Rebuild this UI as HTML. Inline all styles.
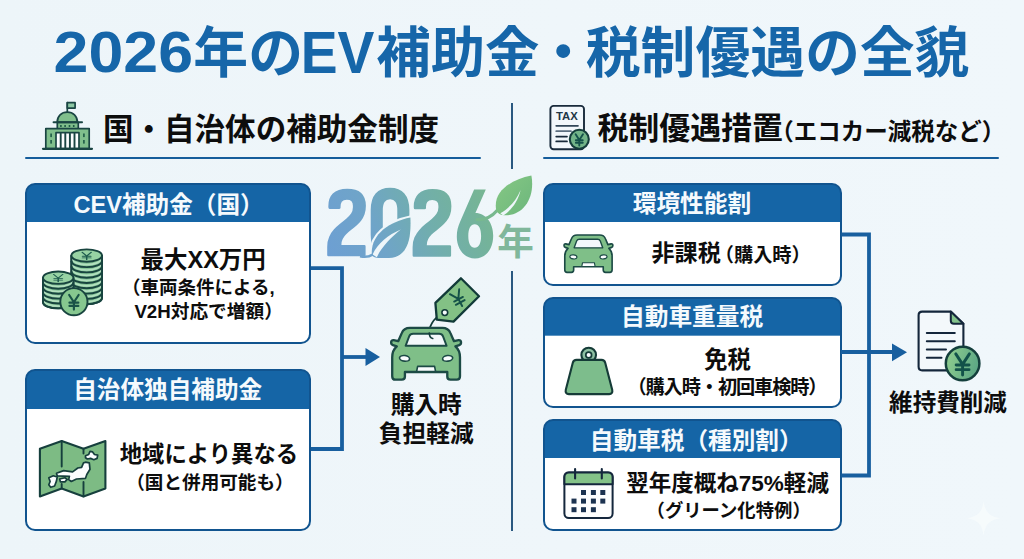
<!DOCTYPE html>
<html lang="ja">
<head>
<meta charset="utf-8">
<title>2026年のEV補助金・税制優遇の全貌</title>
<style>
html,body{margin:0;padding:0}
body{width:1024px;height:559px;overflow:hidden;position:relative;background:#eef6fa linear-gradient(90deg,#edf5f9 0%,#eff6fa 55%,#f0f7fb 100%);font-family:"Liberation Sans",sans-serif;color:#131313}
.t{position:absolute;margin:0;padding:0;color:transparent;font-weight:700;white-space:nowrap;overflow:hidden;line-height:1.15;text-align:left}
.layer{position:absolute;left:0;top:0;width:1024px;height:559px;display:block}
.rule{position:absolute;height:2.8px;background:#155d9b;border-radius:1px}
.vrule{position:absolute;width:2.4px;background:#2a5880}
.card{position:absolute;box-sizing:border-box;border:2.8px solid #11548f;border-radius:10px;background:#fff linear-gradient(#1565a6,#1565a6) no-repeat 0 0/100% var(--hd,37px);overflow:hidden}
.txt text{font-family:"Liberation Sans","Noto Sans CJK JP",sans-serif;font-weight:700}
</style>
</head>
<body>
<main>
<h1 class="t" style="left:54px;top:22px;width:916px;height:62px;font-size:54px">2026年のEV補助金・税制優遇の全貌</h1>

<section aria-label="国・自治体の補助金制度">
<h2 class="t" style="left:103px;top:111px;width:338px;height:35px;font-size:30.5px">国・自治体の補助金制度</h2>
<div class="rule" style="left:25px;top:156.6px;width:456px"></div>
<article class="card" style="left:25px;top:183px;width:286.2px;height:161px;--hd:37.2px"></article>
<h3 class="t" style="left:73px;top:190px;width:200px;height:28px;font-size:24px">CEV補助金（国）</h3>
<p class="t" style="left:140px;top:245px;width:128px;height:28px;font-size:23.5px">最大XX万円</p>
<p class="t" style="left:126px;top:276px;width:150px;height:22px;font-size:18.4px">（車両条件による,</p>
<p class="t" style="left:134px;top:300px;width:150px;height:22px;font-size:18.4px">V2H対応で増額）</p>
<article class="card" style="left:25px;top:369.3px;width:286.2px;height:161.8px;--hd:38px"></article>
<h3 class="t" style="left:75px;top:375px;width:190px;height:28px;font-size:23.7px">自治体独自補助金</h3>
<p class="t" style="left:119px;top:438px;width:180px;height:28px;font-size:22.4px">地域により異なる</p>
<p class="t" style="left:129px;top:470px;width:156px;height:23px;font-size:18.7px">（国と併用可能も）</p>
<p class="t" style="left:390px;top:391px;width:72px;height:27px;font-size:23.4px">購入時</p>
<p class="t" style="left:378px;top:419px;width:96px;height:27px;font-size:23.5px">負担軽減</p>
</section>

<div class="vrule" style="left:511px;top:103px;height:66px"></div>
<div class="vrule" style="left:511px;top:271px;height:260px"></div>

<section aria-label="税制優遇措置（エコカー減税など）">
<h2 class="t" style="left:597px;top:110px;width:395px;height:36px;font-size:31px">税制優遇措置<span style="font-size:23px">（エコカー減税など）</span></h2>
<div class="rule" style="left:543px;top:156.6px;width:455.5px"></div>
<article class="card" style="left:543px;top:183px;width:298.6px;height:102.8px;--hd:37.2px"></article>
<h3 class="t" style="left:632px;top:189px;width:120px;height:28px;font-size:23.8px">環境性能割</h3>
<p class="t" style="left:651px;top:238px;width:150px;height:28px;font-size:23.2px">非課税<span style="font-size:19px">（購入時）</span></p>
<article class="card" style="left:543px;top:297px;width:298.6px;height:111.3px;--hd:36.7px"></article>
<h3 class="t" style="left:623px;top:303px;width:142px;height:28px;font-size:23.6px">自動車重量税</h3>
<p class="t" style="left:704px;top:345px;width:48px;height:28px;font-size:23.4px">免税</p>
<p class="t" style="left:631px;top:374px;width:188px;height:23px;font-size:19.2px">（購入時・初回車検時）</p>
<article class="card" style="left:543px;top:419px;width:298.6px;height:111.7px;--hd:37px"></article>
<h3 class="t" style="left:592px;top:426px;width:214px;height:28px;font-size:23.8px">自動車税（種別割）</h3>
<p class="t" style="left:626px;top:468px;width:205px;height:28px;font-size:22.6px">翌年度概ね75%軽減</p>
<p class="t" style="left:647px;top:498px;width:160px;height:23px;font-size:18.7px">（グリーン化特例）</p>
<p class="t" style="left:888px;top:388px;width:121px;height:28px;font-size:23.6px">維持費削減</p>
</section>
</main>

<!-- connectors, icons, logo -->
<svg class="layer" viewBox="0 0 1024 559" aria-hidden="true">
<g fill="none" stroke="#185f9f" stroke-width="3.8" stroke-linejoin="miter">
  <path d="M311 268.200H342V449H311"/>
  <path d="M342 357H368"/>
  <path d="M841.500 234.500H869V475.500H841.500"/>
  <path d="M841 352H894"/>
</g>
<g fill="#185f9f">
  <path d="M365.500 348L380 357L365.500 366Z"/>
  <path d="M892 343.5L907 352.3L892 361.3Z"/>
</g>
<!--ICONS_BEGIN-->
<defs>
  <path id="yen" d="M-3.5-5.2L0 .2L3.5-5.2M0 .2V5.6M-3.3 .5H3.3M-3.3 2.9H3.3" fill="none" stroke-linecap="round" stroke-linejoin="round"/>
  <g id="car">
    <path d="M27 2H73C79 2 82.5 4.500 84.500 9.500L89.500 21L96 19.500C100.500 19 100.500 25.500 97 26.500L91.500 28.500C96 32.500 98 38 98 44V71C98 74.500 96.500 76 93.500 76H84.500C81.500 76 80 74.500 80 71.500V65H20V71.500C20 74.500 18.500 76 15.500 76H6.500C3.500 76 2 74.500 2 71V44C2 38 4 32.500 8.500 28.500L3 26.500C-.5 25.500-.5 19 4 19.500L10.500 21L15.500 9.500C17.500 4.500 21 2 27 2Z" fill="#7fbf88" stroke="#1c4a45" stroke-width="3.300" stroke-linejoin="round"/>
    <path d="M31.500 10.500H68.500C71.500 10.500 73 11.500 74 14L79 27.500H21L26 14C27 11.500 28.500 10.500 31.500 10.500Z" fill="#f3f8fb" stroke="#1c4a45" stroke-width="2.800" stroke-linejoin="round"/>
    <ellipse cx="19.500" cy="45.500" rx="7.200" ry="4" fill="#fafdfe" stroke="#1c4a45" stroke-width="2.300" transform="rotate(8 19.500 45.500)"/>
    <ellipse cx="80.500" cy="45.500" rx="7.200" ry="4" fill="#fafdfe" stroke="#1c4a45" stroke-width="2.300" transform="rotate(-8 80.500 45.500)"/>
    <path d="M38 57H62L63.500 64.500H36.500Z" fill="#fafdfe" stroke="#1c4a45" stroke-width="2.300" stroke-linejoin="round"/>
  </g>
</defs>

<!-- government building -->
<g stroke="#1a4543" stroke-width="1.700" stroke-linejoin="round" stroke-linecap="round" fill="#80bf8c">
  <path d="M67.300 112V102.700" fill="none"/>
  <rect x="67.300" y="102.700" width="7.800" height="5.400" fill="#8cc7a3"/>
  <path d="M57.200 122.300C57.200 116 61.500 112.200 67.300 112.200S77.400 116 77.400 122.300Z"/>
  <rect x="57.300" y="122.300" width="21" height="6.500"/>
  <path d="M53.600 122.300H82" fill="none" stroke-width="2.100"/>
  <rect x="45.800" y="128.600" width="43.400" height="20"/>
  <rect x="56" y="132.700" width="23" height="16" fill="#fbfdfe"/>
  <path d="M60.700 133.500V148M65.300 133.500V148M69.900 133.500V148M74.500 133.500V148" fill="none" stroke-width="1.900"/>
  <path d="M43 148.800H92" fill="none" stroke-width="2.200"/>
</g>
<g fill="#1d5a45">
  <rect x="60.100" y="125" width="1.600" height="2"/><rect x="64.300" y="125" width="1.600" height="2"/><rect x="68.700" y="125" width="1.600" height="2"/><rect x="72.900" y="125" width="1.600" height="2"/>
  <rect x="50.300" y="133.500" width="1.600" height="3.600"/><rect x="50.300" y="140" width="1.600" height="3.600"/>
  <rect x="83.100" y="133.500" width="1.600" height="3.600"/><rect x="83.100" y="140" width="1.600" height="3.600"/>
</g>

<!-- TAX document -->
<g stroke-linecap="round">
  <rect x="550.400" y="105.900" width="33.600" height="43.400" rx="3.200" fill="#f2f7fb" stroke="#192a3b" stroke-width="1.900"/>
  <path d="M556.200 125.800H578" stroke="#324658" stroke-width="1.700"/>
  <path d="M556.200 131.200H571" stroke="#5d6f80" stroke-width="1.700"/>
  <path d="M556.200 136.600H567M556.200 141.400H567" stroke="#192a3b" stroke-width="1.700"/>
  <circle cx="579.300" cy="139.300" r="9.500" fill="#72b488" stroke="#153d3b" stroke-width="2.100"/>
  <use href="#yen" transform="translate(579.300 139.700) scale(1.050)" stroke="#15524a" stroke-width="1.800"/>
</g>
<!-- coin stacks -->
<g stroke="#18443f" stroke-width="1.900" stroke-linejoin="round"><path d="M71.4 255.6V298.0A15.3 6.2 0 0 0 102.0 298.0V255.6Z" fill="#84c496"/><path d="M72.2 258.5A14.5 6.2 0 0 0 101.2 258.5" fill="none" stroke="#b3dfbf" stroke-width="1.700"/><path d="M72.2 263.8A14.5 6.2 0 0 0 101.2 263.8" fill="none" stroke="#b3dfbf" stroke-width="1.700"/><path d="M72.2 269.1A14.5 6.2 0 0 0 101.2 269.1" fill="none" stroke="#b3dfbf" stroke-width="1.700"/><path d="M72.2 274.4A14.5 6.2 0 0 0 101.2 274.4" fill="none" stroke="#b3dfbf" stroke-width="1.700"/><path d="M72.2 279.7A14.5 6.2 0 0 0 101.2 279.7" fill="none" stroke="#b3dfbf" stroke-width="1.700"/><path d="M72.2 285.0A14.5 6.2 0 0 0 101.2 285.0" fill="none" stroke="#b3dfbf" stroke-width="1.700"/><path d="M72.2 290.3A14.5 6.2 0 0 0 101.2 290.3" fill="none" stroke="#b3dfbf" stroke-width="1.700"/><path d="M72.2 295.6A14.5 6.2 0 0 0 101.2 295.6" fill="none" stroke="#b3dfbf" stroke-width="1.700"/><path d="M71.4 260.9A15.3 6.2 0 0 0 102.0 260.9" fill="none"/><path d="M71.4 266.2A15.3 6.2 0 0 0 102.0 266.2" fill="none"/><path d="M71.4 271.5A15.3 6.2 0 0 0 102.0 271.5" fill="none"/><path d="M71.4 276.8A15.3 6.2 0 0 0 102.0 276.8" fill="none"/><path d="M71.4 282.1A15.3 6.2 0 0 0 102.0 282.1" fill="none"/><path d="M71.4 287.4A15.3 6.2 0 0 0 102.0 287.4" fill="none"/><path d="M71.4 292.7A15.3 6.2 0 0 0 102.0 292.7" fill="none"/><path d="M71.4 255.6V298.0A15.3 6.2 0 0 0 102.0 298.0V255.6" fill="none"/><ellipse cx="86.7" cy="255.6" rx="15.3" ry="6.2" fill="#97d2a3"/><use href="#yen" transform="translate(86.7 255.9) scale(1.300 .700)" stroke-width="1.150" stroke="#1d5a4d"/><path d="M43.0 277.7V302.2A15.2 6.2 0 0 0 73.4 302.2V277.7Z" fill="#84c496"/><path d="M43.8 280.4A14.4 6.2 0 0 0 72.6 280.4" fill="none" stroke="#b3dfbf" stroke-width="1.700"/><path d="M43.8 285.3A14.4 6.2 0 0 0 72.6 285.3" fill="none" stroke="#b3dfbf" stroke-width="1.700"/><path d="M43.8 290.2A14.4 6.2 0 0 0 72.6 290.2" fill="none" stroke="#b3dfbf" stroke-width="1.700"/><path d="M43.8 295.1A14.4 6.2 0 0 0 72.6 295.1" fill="none" stroke="#b3dfbf" stroke-width="1.700"/><path d="M43.8 300.0A14.4 6.2 0 0 0 72.6 300.0" fill="none" stroke="#b3dfbf" stroke-width="1.700"/><path d="M43.0 282.6A15.2 6.2 0 0 0 73.4 282.6" fill="none"/><path d="M43.0 287.5A15.2 6.2 0 0 0 73.4 287.5" fill="none"/><path d="M43.0 292.4A15.2 6.2 0 0 0 73.4 292.4" fill="none"/><path d="M43.0 297.3A15.2 6.2 0 0 0 73.4 297.3" fill="none"/><path d="M43.0 277.7V302.2A15.2 6.2 0 0 0 73.4 302.2V277.7" fill="none"/><ellipse cx="58.2" cy="277.7" rx="15.2" ry="6.2" fill="#97d2a3"/><use href="#yen" transform="translate(58.2 278.0) scale(1.300 .700)" stroke-width="1.150" stroke="#1d5a4d"/><circle cx="73.900" cy="301.700" r="13.600" fill="#86c78f"/><use href="#yen" transform="translate(73.900 302.000) scale(1.350)" stroke="#195247" stroke-width="1.600" stroke-linecap="round"/></g>
<!-- folded map of Japan -->
<g stroke="#163f3d" stroke-linejoin="round" stroke-linecap="round">
  <path d="M39.900 448.700L61.700 441L83.500 448.700L105.400 441V488.600L83.500 496.400L61.700 488.600L39.900 496.400Z" fill="#7dbb84" stroke-width="2.100"/>
  <path d="M61.700 441V466.500M61.700 484V488.600M83.500 448.700V453.500M83.500 482V496.400" fill="none" stroke-width="1.900"/>
  <g fill="#fbfdfe" stroke-width="1.700">
    <path d="M85.500 455.800L88.700 454.500L90 451.300L92.600 451.900L94.500 454.500L97.700 455.200L97.100 458.400L93.800 459.700L90.600 458.400L87.400 459L85.500 457.700Z"/>
    <path d="M85.500 462.200L89.300 462.900L90 469.300L86.800 474.500L85.500 478.300L76.500 479L71.300 481.500L68.700 479.600L69.400 476.400L57.200 475.800L56.500 473.200L63.600 470.600L72.600 471.900L77.800 468L81.600 467.400L83.500 462.900Z"/>
    <path d="M48.800 477.700L53.300 475.800L57.200 477L56.500 480.900L54.600 486L50.700 487.300L48.800 484.800L50.100 481.500Z"/>
    <path d="M59.700 479L64.900 477.700L67.200 479.400L64.900 481.900L60.400 481.900Z"/>
  </g>
</g>

<!-- price tag + car (centre) -->
<g stroke="#123b39" stroke-linejoin="round" stroke-linecap="round">
  <path d="M442.800 313.600C433.500 318 428 327 429.300 335.500C430 337 431.200 338 432.700 338.500" fill="none" stroke-width="1.700"/>
  <path d="M460.900 278.300L479 296.200L453.500 321.600L436.800 319.600L435.400 302.900Z" fill="#83c185" stroke-width="2.300"/>
  <circle cx="444.800" cy="312.600" r="2.900" fill="#f6fafc" stroke-width="1.600"/>
  <use href="#yen" transform="translate(458.200 298.600) rotate(-28) scale(1.500)" stroke="#155248" stroke-width="1.300"/>
</g>
<use href="#car" transform="translate(390.800 326.500) scale(.706 .700)"/>
<!-- string hook over the roof -->
<path d="M429.300 333C429.300 336 430.500 338 432.700 338.500" fill="none" stroke="#123b39" stroke-width="1.700" stroke-linecap="round"/>

<!-- small car -->
<use href="#car" transform="translate(563.800 234) scale(.493 .504)"/>

<!-- weight -->
<g transform="translate(0 -.7)" stroke="#153b37" stroke-width="2.100" stroke-linejoin="round">
  <circle cx="588.700" cy="355.700" r="7.300" fill="#8dc0a2"/>
  <path d="M576.500 360.600H601.500C603.500 360.600 604.700 361.500 605.200 363.400L612.200 390.500C612.800 393.200 611.700 394.800 609.200 394.800H568.800C566.300 394.800 565.200 393.200 565.800 390.500L572.800 363.400C573.300 361.500 574.500 360.600 576.500 360.600Z" fill="#7dbd8c"/>
  <circle cx="588.700" cy="355.700" r="2.900" fill="#fbfdfe" stroke-width="1.700"/>
</g>

<!-- calendar -->
<g stroke="#14273c" stroke-width="2" stroke-linejoin="round" stroke-linecap="round">
  <rect x="564.400" y="472.600" width="48.200" height="45.400" rx="4.500" fill="#fdfefe"/>
  <path d="M564.400 484.200V477.100C564.400 474.300 566 472.600 568.900 472.600H608.100C611 472.600 612.600 474.300 612.600 477.100V484.200Z" fill="#84c388"/>
  <path d="M575.100 469V478.400M601.800 469V478.400" fill="none" stroke-width="2.100"/>
</g>
<g fill="#1c3350">
  <rect x="581" y="490" width="5" height="5"/><rect x="590.900" y="490" width="5" height="5"/><rect x="600.300" y="490" width="5" height="5"/>
  <rect x="571.500" y="498.600" width="5" height="5"/><rect x="581" y="498.600" width="5" height="5"/><rect x="590.900" y="498.600" width="5" height="5"/><rect x="600.300" y="498.600" width="5" height="5"/>
  <rect x="571.500" y="507.200" width="5" height="5"/><rect x="581" y="507.200" width="5" height="5"/><rect x="590.900" y="507.200" width="5" height="5"/>
</g>

<!-- document + yen coin (right) -->
<defs>
  <linearGradient id="coinG" x1="0" y1="0" x2="1" y2=".3"><stop offset="0" stop-color="#93d08f"/><stop offset="1" stop-color="#5ea985"/></linearGradient>
</defs>
<g stroke="#14263b" stroke-linejoin="round" stroke-linecap="round">
  <path d="M922.200 311.600H950.800L963.400 323.800V366.800C963.400 369.200 962.200 370.400 959.800 370.400H922.200C919.800 370.400 918.600 369.200 918.600 366.800V315.200C918.600 312.800 919.800 311.600 922.200 311.600Z" fill="#f3f8fb" stroke-width="2.100"/>
  <path d="M950.800 311.600V320.800C950.800 322.800 951.800 323.800 953.800 323.800H963.400Z" fill="#84c38c" stroke-width="2"/>
  <path d="M926.800 332.900H954.800M926.800 341.300H954.800M926.800 349.600H946M926.800 357.800H941.500" fill="none" stroke-width="2"/>
  <circle cx="962.600" cy="363.500" r="16.800" fill="url(#coinG)" stroke="#143f3c" stroke-width="2.500"/>
  <use href="#yen" transform="translate(962.600 364) scale(1.950)" stroke="#12524a" stroke-width="1.500"/>
</g>
<!--ICONS_END-->
<!-- sparkle mark -->
<path d="M983.600 501C985 512 989.500 516.700 1000.500 518.200C989.500 519.700 985 524.400 983.600 535.500C982.200 524.400 977.700 519.700 966.700 518.200C977.700 516.700 982.200 512 983.600 501Z" fill="#fafdfe" opacity=".6"/>
<defs><linearGradient id="lg" gradientUnits="userSpaceOnUse" x1="330" y1="262" x2="492" y2="186"><stop offset="0" stop-color="#6d9fd3"/><stop offset=".3" stop-color="#6fa4c9"/><stop offset=".6" stop-color="#71aeac"/><stop offset=".85" stop-color="#74b39a"/><stop offset="1" stop-color="#79b78f"/></linearGradient><linearGradient id="lf" x1="0" y1="0" x2="1" y2="1"><stop offset="0" stop-color="#86c884"/><stop offset="1" stop-color="#6cb67c"/></linearGradient></defs>
<g fill="url(#lg)"><path d="M328.4 256.3Q327.2 256.3 327.2 255.1V246.8Q327.2 241.1 329.1 236.9Q330.9 232.7 333.8 229.6Q336.7 226.4 340 223.8Q343.3 221.1 346.2 218.7Q349.2 216.2 351.1 213.5Q352.9 210.7 352.9 207.2V205.7Q352.9 202.7 351.5 201.2Q350 199.8 346.8 199.8Q343.3 199.8 341.8 201.8Q340.4 203.8 340.6 207.6Q340.6 208.9 339.3 208.9H329.6Q328.5 208.9 328.4 207.6Q327.9 198.5 332.8 193.6Q337.7 188.7 347.2 188.7Q356.5 188.7 361.2 192.9Q365.9 197.2 365.9 205.8Q365.9 210.7 364.6 214.3Q363.3 218 361.1 220.7Q358.9 223.5 356.3 225.8Q353.6 228.1 351 230.1Q348.4 232.1 346.2 234.3Q344 236.4 342.7 239Q341.4 241.5 341.4 244.9H364.4Q365.6 244.9 365.6 246.2V255.1Q365.6 256.3 364.4 256.3Z"/><path d="M390.1 257.3Q380.5 257.3 375.6 251.5Q370.7 245.8 370.7 234.9V210.1Q370.7 199.2 375.6 193.5Q380.5 187.7 390.1 187.7Q399.5 187.7 404.4 193.5Q409.4 199.2 409.4 210.1V234.9Q409.4 245.8 404.4 251.5Q399.5 257.3 390.1 257.3ZM390.1 245.7Q393.7 245.7 395.5 242.9Q397.3 240.2 397.3 234.7V210.3Q397.3 204.7 395.5 202Q393.7 199.3 390.1 199.3Q386.4 199.3 384.6 202Q382.8 204.7 382.8 210.3V234.7Q382.8 240.2 384.6 242.9Q386.4 245.7 390.1 245.7Z"/><path d="M413.8 256.7Q412.6 256.7 412.6 255.5V247.2Q412.6 241.5 414.5 237.3Q416.4 233.1 419.3 229.9Q422.1 226.8 425.4 224.1Q428.7 221.5 431.7 219Q434.6 216.6 436.5 213.8Q438.4 211.1 438.4 207.5V206.1Q438.4 203 436.9 201.6Q435.5 200.1 432.2 200.1Q428.7 200.1 427.3 202.1Q425.8 204.1 426 207.9Q426 209.2 424.7 209.2H415Q413.9 209.2 413.8 207.9Q413.3 198.8 418.2 193.9Q423.2 189 432.6 189Q442 189 446.700 193.2Q451.4 197.5 451.4 206.2Q451.4 211.1 450.1 214.7Q448.8 218.3 446.6 221.1Q444.4 223.8 441.8 226.1Q439.1 228.4 436.5 230.5Q433.8 232.5 431.6 234.6Q429.5 236.8 428.1 239.3Q426.8 241.9 426.8 245.3H449.9Q451.1 245.3 451.1 246.6V255.5Q451.1 256.7 449.9 256.7Z"/><path fill-rule="evenodd" d="M474.100 189.400L485.800 189.400L475.400 212.900C485.600 212.900 493.200 222.500 493.200 235.700C493.200 249 485.600 258.500 475 258.500C464.400 258.500 456.800 249 456.800 236.500C456.800 231 458 226.500 460.200 221.500ZM474.700 224.200C478.700 224.200 481.100 228.500 481.100 236C481.100 243.500 478.700 247.800 474.700 247.800C470.700 247.800 468.300 243.500 468.300 236C468.300 228.500 470.700 224.200 474.700 224.200Z"/></g>
<path d="M372 255.500C369.500 236 388 222 410.400 217.600C410.800 226 410.400 234 408.800 240.500C405.800 252 398.500 258 389 258L378.500 258C375.500 258 373.200 257 372 255.500Z" fill="#eef6fa" stroke="#eef6fa" stroke-width="4.200" stroke-linejoin="round"/><path d="M372 255.500C369.500 236 388 222 410.400 217.600C410.800 226 410.400 234 408.800 240.500C405.800 252 398.500 258 389 258L378.500 258C375.500 258 373.200 257 372 255.500Z" fill="url(#lg)"/><path d="M372.600 254.500C378 243 388 235 400.800 229.600C391.500 237 382 246.500 376.800 257.300Z" fill="#eef6fa"/><path d="M360 256.300C365 257.300 369.500 256.800 372.800 254.500" fill="none" stroke="url(#lg)" stroke-width="2.600"/><path d="M477 219.500C486 220 492.500 216 497.300 210.300" fill="none" stroke="#78b98f" stroke-width="3.200" stroke-linecap="round"/><path d="M496.300 210.300C492.500 192.500 509.500 180 531.400 175.600C535.500 198 523 216.500 503.500 215.300C500 214.800 497.600 213.200 496.300 210.300Z" fill="url(#lf)"/><path d="M500.300 213.300C510 207.500 516.500 200 520.600 190C518 201.500 512 209.500 503.300 215.400Z" fill="#eef6fa"/>
</svg>

<!-- visible text layer -->
<svg class="layer txt" viewBox="0 0 1024 559" aria-hidden="true">
<g fill="#1666a9">
<text x="53.63" y="72.11" font-size="58" textLength="139.4" lengthAdjust="spacingAndGlyphs">2026</text>
<text x="193.27" y="71.62" font-size="54.87">年の</text>
<text x="300.66" y="72.9" font-size="58.5" textLength="73.7" lengthAdjust="spacingAndGlyphs">EV</text>
<text x="376.22" y="71.5" font-size="54.45">補助金</text>
<text x="536.15" y="71.5" font-size="53.91">・</text>
<text x="585.8" y="71.5" font-size="54.81">税制優遇</text>
<text x="805.3" y="71.5" font-size="54.64">の全貌</text>
</g>
<g fill="#0d0d0d">
<text x="102.88" y="139.96" font-size="30.57">国・自治体の補助金制度</text>
<text x="597.38" y="139.43" font-size="30.94">税制優遇措置</text>
<text x="770.33" y="140.18" font-size="23.5">（エコカー減税など）</text>
</g>
<g fill="#f5fafd">
<text x="73.45" y="212.61" font-size="24" textLength="190.3" lengthAdjust="spacingAndGlyphs">CEV補助金（国）</text>
<text x="73.15" y="398.13" font-size="23.63">自治体独自補助金</text>
<text x="632.73" y="212.44" font-size="23.71">環境性能割</text>
<text x="621.04" y="325.41" font-size="23.69">自動車重量税</text>
<text x="589.84" y="448.99" font-size="23.65">自動車税（種別割）</text>
</g>
<g fill="#0d0d0d">
<text x="140.52" y="267.67" font-size="23.6" textLength="125.3" lengthAdjust="spacingAndGlyphs">最大XX万円</text>
<text x="122.12" y="293.82" font-size="18.5">（車両条件による,</text>
<text x="134.39" y="317.69" font-size="18.7" textLength="148.5" lengthAdjust="spacingAndGlyphs">V2H対応で増額）</text>
<text x="119.68" y="461.63" font-size="22.36">地域により異なる</text>
<text x="126.25" y="489" font-size="18.6">（国と併用可能も）</text>
<text x="651.55" y="261.19" font-size="23.07">非課税</text>
<text x="714.81" y="262.14" font-size="19.2">（購入時）</text>
<text x="704.16" y="367.76" font-size="23.3">免税</text>
<text x="627.44" y="393.66" font-size="19.2" textLength="200.1" lengthAdjust="spacing">（購入時・初回車検時）</text>
<text x="626.31" y="490.74" font-size="22.3" textLength="202.6" lengthAdjust="spacingAndGlyphs">翌年度概ね75%軽減</text>
<text x="646.57" y="516.82" font-size="18.35">（グリーン化特例）</text>
<text x="390.68" y="412.86" font-size="23.7">購入時</text>
<text x="378.84" y="441.81" font-size="23.73">負担軽減</text>
<text x="889.09" y="411.41" font-size="23.56">維持費削減</text>
</g>
<text x="497.15" y="255.07" font-size="36.6" fill="#80b79b">年</text>
<text x="556.05" y="120.3" font-size="11" fill="#223646" textLength="21.8" lengthAdjust="spacingAndGlyphs">TAX</text>
</svg>
</body>
</html>
